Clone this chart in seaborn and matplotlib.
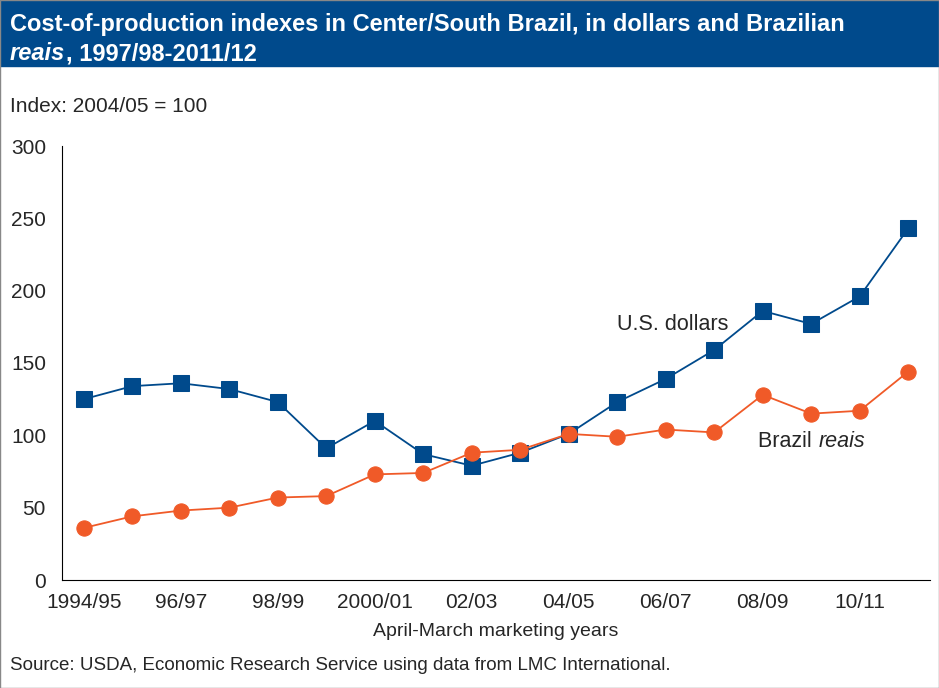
import matplotlib
matplotlib.use("Agg")
import matplotlib.pyplot as plt
import seaborn as sns
import pandas as pd

years = ["1994/95","95/96","96/97","97/98","98/99","99/00","2000/01","01/02","02/03","03/04",
         "04/05","05/06","06/07","07/08","08/09","09/10","10/11","11/12"]
usd = [125,134,136,132,123,91,110,87,79,88,101,123,139,159,186,177,196,243]
brl = [36,44,48,50,57,58,73,74,88,90,101,99,104,102,128,115,117,144]
label_years = ["1994/95","96/97","98/99","2000/01","02/03","04/05","06/07","08/09","10/11"]

sns.set_style("white")
plt.rcParams['font.family'] = ['Liberation Sans', 'DejaVu Sans']

df = pd.DataFrame({"x": range(len(years)), "usd": usd, "brl": brl})
fig = plt.figure(figsize=(9.39, 6.88), dpi=100)
ax = fig.add_axes([62/939, 108/688, 868/939, 434/688])
blue = "#004a8c"; orange = "#f05a28"
sns.lineplot(data=df, x="x", y="usd", ax=ax, color=blue, marker="s", markersize=11,
             markeredgecolor=blue, linewidth=1.3)
sns.lineplot(data=df, x="x", y="brl", ax=ax, color=orange, marker="o", markersize=11,
             markeredgecolor=orange, linewidth=1.3)
ax.set_xlim(-0.45, len(years) - 0.55)
ax.set_ylim(0, 300)
ax.set_yticks(range(0, 301, 50))
ax.set_xticks(range(len(years)))
ax.set_xticklabels([y if y in label_years else "" for y in years])
ax.tick_params(axis="both", labelsize=15, length=6, direction="out", color="black", width=1)
ax.tick_params(axis="y", length=8)
ax.set_xlabel("April-March marketing years", fontsize=14, labelpad=8)
ax.set_ylabel("")
for s in ["top", "right"]:
    ax.spines[s].set_visible(False)
for s in ["left", "bottom"]:
    ax.spines[s].set_color("black")
ax.text(11.0, 173, "U.S. dollars", fontsize=15.5)
ax.text(13.9, 92, "Brazil ", fontsize=15.5)
ax.text(15.15, 92, "reais", fontsize=15.5, style="italic")

fig.patches.append(plt.Rectangle((0, 1 - 66/688), 1, 66/688, transform=fig.transFigure,
                                 color=blue, zorder=0))
fig.text(10/939, 1 - 24/688, "Cost-of-production indexes in Center/South Brazil, in dollars and Brazilian",
         color="white", fontsize=17, fontweight="bold", va="center")
t = fig.text(10/939, 1 - 54/688, "reais", color="white",
             fontsize=17, fontweight="bold", style="italic", va="center")
fig.canvas.draw()
bb = t.get_window_extent()
fig.text((bb.x1 + 1) / 939, 1 - 54/688, ", 1997/98-2011/12", color="white",
         fontsize=17, fontweight="bold", va="center")
fig.text(10/939, 1 - 107/688, "Index: 2004/05 = 100", fontsize=15, va="center")
fig.text(10/939, 1 - 666/688, "Source: USDA, Economic Research Service using data from LMC International.",
         fontsize=13.5, va="center")
fig.patches.append(plt.Rectangle((0, 0), 1, 1, transform=fig.transFigure, fill=False,
                                 edgecolor="#888888", linewidth=1))
fig.savefig("out.png", dpi=100)
